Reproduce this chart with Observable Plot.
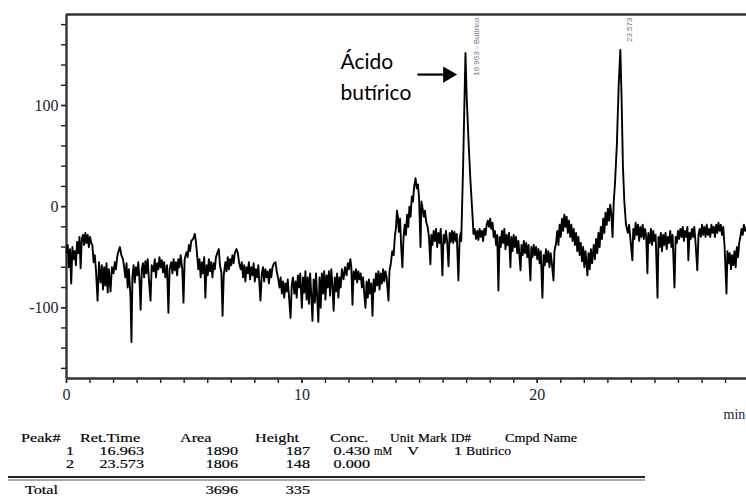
<!DOCTYPE html>
<html><head><meta charset="utf-8">
<script src="https://cdn.jsdelivr.net/npm/d3@7"></script>
<script src="https://cdn.jsdelivr.net/npm/@observablehq/plot@0.6"></script>
<style>
body{margin:0;background:#fff;}
#wrap{position:relative;width:746px;height:499px;overflow:hidden;background:#fff;}
</style></head><body><div id="wrap"></div>
<script>
// ---- axis ticks ----
const yMinorTicks = [-160,-140,-120,-100,-80,-60,-40,-20,0,20,40,60,80,100,120,140,160,180];
const yLabelTicks = [-100, 0, 100];
const xMinorTicks = [0,1,2,3,4,5,6,7,8,9,10,11,12,13,14,15,16,17,18,19,20,21,22,23,24,25,26,27,28];
const xLabelTicks = [0, 10, 20];
const xUnit = "min";

// ---- chromatogram trace: [time (min), signal] ----
const trace = [
[0,-45],[0.05,-38],[0.1,-60],[0.15,-42],[0.2,-76],[0.25,-40],[0.3,-52],[0.35,-44],[0.4,-58],[0.45,-35],[0.5,-46],[0.55,-30],[0.6,-61],[0.65,-32],[0.7,-28],[0.75,-38],[0.8,-26],[0.85,-36],[0.9,-28],[0.95,-40],[1.0,-30],
[1.05,-36],[1.1,-38],[1.15,-55],[1.2,-48],[1.25,-62],[1.32,-93],[1.38,-55],[1.45,-75],[1.5,-58],[1.55,-82],[1.6,-60],[1.65,-78],[1.7,-56],[1.75,-85],[1.8,-62],[1.87,-84],[1.93,-60],[2.0,-66],[2.05,-55],[2.1,-62],[2.15,-50],[2.2,-45],[2.27,-40],[2.33,-48],[2.4,-52],
[2.45,-60],[2.5,-70],[2.55,-56],[2.6,-80],[2.65,-62],[2.72,-90],[2.76,-134],[2.8,-70],[2.85,-58],[2.9,-75],[2.95,-60],[3.0,-68],[3.05,-55],[3.1,-72],[3.15,-102],[3.2,-62],[3.25,-56],[3.3,-70],[3.35,-54],[3.4,-66],[3.45,-52],[3.5,-72],[3.57,-93],[3.62,-58],[3.7,-64],[3.75,-52],[3.8,-70],[3.85,-56],[3.9,-62],[3.95,-50],
[4.0,-60],[4.05,-53],[4.1,-65],[4.15,-55],[4.2,-70],[4.27,-58],[4.33,-105],[4.38,-62],[4.45,-55],[4.5,-66],[4.55,-52],[4.6,-63],[4.65,-55],[4.7,-68],[4.75,-52],[4.8,-60],[4.85,-48],[4.92,-62],[4.97,-95],[5.02,-52],[5.1,-45],[5.15,-50],[5.2,-38],[5.25,-44],[5.3,-34],[5.38,-32],[5.45,-27],[5.5,-35],
[5.55,-48],[5.6,-62],[5.65,-52],[5.7,-70],[5.75,-55],[5.8,-66],[5.85,-50],[5.9,-90],[5.95,-58],[6.0,-68],[6.05,-52],[6.1,-64],[6.15,-55],[6.2,-70],[6.25,-56],[6.3,-62],[6.35,-50],[6.42,-45],[6.47,-42],[6.52,-58],[6.58,-65],[6.63,-108],[6.68,-68],[6.75,-55],[6.8,-64],[6.85,-50],[6.9,-62],[6.95,-52],[7.0,-58],[7.05,-48],[7.1,-56],[7.15,-46],[7.22,-42],[7.28,-46],[7.33,-55],
[7.4,-62],[7.45,-55],[7.5,-70],[7.55,-58],[7.6,-74],[7.65,-60],[7.7,-66],[7.75,-55],[7.8,-72],[7.85,-60],[7.9,-68],[7.95,-56],[8.0,-74],[8.05,-62],[8.1,-70],[8.15,-58],[8.24,-93],[8.3,-66],[8.35,-60],[8.4,-74],[8.45,-62],[8.5,-70],[8.55,-64],[8.6,-76],[8.65,-62],[8.7,-70],[8.75,-60],[8.82,-56],[8.88,-55],[8.93,-64],
[9.0,-72],[9.05,-80],[9.1,-70],[9.15,-86],[9.2,-74],[9.25,-90],[9.3,-76],[9.35,-84],[9.4,-72],[9.45,-88],[9.52,-110],[9.57,-78],[9.62,-70],[9.68,-86],[9.73,-74],[9.78,-90],[9.83,-68],[9.88,-80],[9.93,-66],[10.0,-100],[10.05,-70],[10.1,-85],[10.15,-64],[10.2,-92],[10.25,-70],[10.3,-96],[10.35,-66],[10.4,-88],[10.45,-113],[10.5,-72],[10.55,-95],[10.6,-66],[10.65,-90],[10.7,-114],[10.75,-70],[10.8,-100],[10.85,-66],[10.9,-86],[10.95,-64],[11.0,-92],[11.05,-68],[11.1,-80],[11.15,-64],[11.2,-88],[11.25,-62],
[11.3,-78],[11.35,-103],[11.4,-70],[11.45,-84],[11.5,-66],[11.55,-90],[11.6,-70],[11.65,-80],[11.7,-62],[11.77,-72],[11.83,-60],[11.9,-68],[11.95,-56],[12.0,-62],[12.06,-52],[12.1,-60],[12.15,-97],[12.2,-64],[12.25,-72],[12.3,-62],[12.35,-75],[12.4,-64],[12.45,-72],[12.5,-66],[12.55,-80],[12.6,-70],[12.65,-86],[12.7,-100],[12.75,-74],[12.8,-90],[12.85,-72],[12.9,-86],[12.95,-76],[13.0,-108],[13.05,-72],[13.1,-84],[13.15,-66],[13.2,-78],[13.25,-64],[13.3,-82],[13.35,-66],[13.4,-76],[13.45,-62],[13.5,-74],[13.55,-64],[13.6,-70],[13.68,-93],[13.72,-64],[13.78,-56],[13.84,-44],[13.9,-48],[13.95,-30],[14.0,-20],[14.04,-4],[14.08,-10],
[14.12,-25],[14.17,-12],[14.22,-40],[14.27,-60],[14.32,-30],[14.37,-18],[14.42,-28],[14.47,-8],[14.52,-20],[14.57,0],[14.62,-10],[14.67,10],[14.72,5],[14.77,20],[14.83,28],[14.88,18],[14.93,22],[14.98,8],[15.04,-40],[15.08,5],[15.13,-2],[15.18,-10],[15.23,-4],[15.28,-15],[15.34,-20],[15.4,-30],[15.46,-57],[15.5,-28],[15.55,-38],[15.6,-24],[15.65,-34],[15.7,-22],[15.75,-40],[15.8,-26],[15.85,-36],[15.9,-22],[15.97,-68],[16.02,-28],[16.07,-36],[16.12,-24],[16.17,-34],[16.23,-59],[16.28,-26],[16.33,-35],[16.38,-24],[16.43,-36],[16.48,-25],[16.53,-34],[16.58,-27],[16.65,-73],[16.7,-32],[16.75,-26],
[16.77,-34],[16.85,40],[16.95,152],[17.0,110],[17.08,65],[17.16,26],[17.25,-9],[17.29,-27],
[17.34,-22],[17.4,-32],[17.45,-24],[17.5,-33],[17.55,-22],[17.6,-30],[17.65,-24],[17.7,-34],[17.75,-22],[17.8,-28],[17.85,-18],[17.9,-14],[17.95,-20],[18.0,-12],[18.05,-22],[18.1,-16],[18.15,-30],[18.2,-24],[18.25,-38],[18.3,-28],[18.35,-83],[18.4,-30],[18.45,-40],[18.5,-24],[18.55,-36],[18.6,-22],[18.65,-42],[18.7,-28],[18.75,-38],[18.8,-26],[18.86,-60],[18.9,-30],[18.95,-44],[19.0,-28],[19.05,-40],[19.1,-30],[19.15,-46],[19.2,-34],[19.29,-63],[19.33,-38],[19.38,-48],[19.43,-34],[19.48,-46],[19.53,-36],[19.58,-50],[19.63,-38],[19.71,-73],[19.75,-40],[19.8,-50],[19.85,-38],[19.9,-48],[19.95,-40],[20.0,-52],
[20.05,-42],[20.1,-56],[20.15,-44],[20.22,-90],[20.27,-48],[20.32,-58],[20.37,-42],[20.42,-55],[20.47,-44],[20.52,-60],[20.57,-46],[20.62,-56],[20.69,-73],[20.73,-44],[20.8,-36],[20.85,-24],[20.9,-38],[20.95,-18],[21.0,-30],[21.05,-12],[21.1,-24],[21.15,-8],[21.2,-20],[21.25,-10],[21.3,-26],[21.35,-14],[21.4,-30],[21.45,-18],[21.5,-34],[21.55,-22],[21.6,-38],[21.65,-26],[21.7,-44],[21.75,-30],[21.8,-48],[21.85,-36],[21.9,-54],[21.95,-40],[22.0,-60],[22.05,-44],[22.1,-58],[22.13,-68],[22.18,-46],[22.23,-62],[22.28,-42],[22.33,-56],
[22.4,-38],[22.45,-52],[22.5,-32],[22.55,-46],[22.6,-26],[22.65,-40],[22.7,-20],[22.75,-32],[22.8,-12],[22.85,-26],[22.9,-6],[22.95,-18],[23.0,-2],[23.05,-14],[23.1,2],[23.15,-8],[23.2,-30],[23.25,5],
[23.3,22],[23.38,60],[23.46,120],[23.53,155],[23.58,110],[23.64,40],[23.7,5],[23.77,-18],
[23.85,-26],[23.9,-18],[23.95,-30],[24.04,-53],[24.08,-22],[24.13,-32],[24.18,-16],[24.23,-28],[24.28,-18],[24.33,-34],[24.38,-20],[24.43,-30],[24.48,-18],[24.53,-32],[24.58,-22],[24.63,-30],[24.68,-66],[24.72,-26],[24.78,-36],[24.83,-22],[24.88,-38],[24.93,-24],[24.98,-34],[25.03,-28],[25.11,-90],[25.15,-30],[25.2,-40],[25.25,-26],[25.3,-44],[25.35,-28],[25.4,-38],[25.45,-26],[25.5,-42],[25.55,-30],[25.6,-36],[25.65,-24],[25.7,-40],[25.75,-28],[25.83,-80],[25.88,-30],[25.93,-36],[25.98,-24],
[26.03,-32],[26.08,-22],[26.13,-30],[26.18,-20],[26.23,-34],[26.28,-24],[26.33,-30],[26.38,-20],[26.42,-53],[26.47,-26],[26.52,-32],[26.57,-22],[26.62,-30],[26.67,-20],[26.72,-34],[26.8,-63],[26.85,-28],[26.9,-22],[26.95,-30],[27.0,-18],[27.05,-28],[27.1,-20],[27.15,-30],[27.2,-18],[27.25,-28],[27.3,-22],[27.35,-30],[27.4,-18],[27.45,-26],[27.5,-20],[27.55,-30],[27.6,-18],[27.65,-26],[27.7,-16],[27.75,-24],[27.8,-18],[27.85,-28],[27.9,-20],[27.96,-40],[28.04,-86],[28.08,-44],[28.13,-56],[28.18,-46],[28.23,-62],[28.28,-48],[28.33,-58],[28.38,-44],[28.43,-60],[28.48,-40],[28.53,-50],[28.58,-36],[28.63,-30],[28.68,-22],[28.73,-28],[28.78,-18],[28.83,-24],[28.9,-20]
];

// ---- peak labels and annotation ----
const peakLabels = ["16.963 - Butirico", "23.573"];
const peakLabelTimes = [17.42, 23.9];
const annotationLines = ["Ácido", "butírico"];

// ---- peak table ----
const tableHeader = ["Peak#","Ret.Time","Area","Height","Conc.","Unit","Mark","ID#","Cmpd Name"];
const peakNo = ["1","2"];
const retTime = ["16.963","23.573"];
const peakArea = ["1890","1806"];
const peakHeight = ["187","148"];
const peakConc = ["0.430","0.000"];
const peakUnit = ["mM",""];
const peakMark = ["V",""];
const peakId = ["1",""];
const peakName = ["Butirico",""];
const totalLabel = "Total";
const totalArea = "3696";
const totalHeight = "335";

const pts = trace.map(([t, v]) => ({t, v}));
const ink = "#1c1c2c";

const chart = Plot.plot({
  width: 746, height: 425,
  marginLeft: 66, marginRight: 0, marginTop: 14, marginBottom: 47,
  style: {fontFamily: "'Liberation Serif', serif", fontSize: "16px", color: ink, background: "#fff", overflow: "visible"},
  x: {domain: [0, 28.89]},
  y: {domain: [-170, 190]},
  marks: [
    Plot.axisY({ticks: yMinorTicks, tickSize: 5, tickFormat: () => "", label: null, strokeWidth: 1.4}),
    Plot.axisY({ticks: yLabelTicks, tickSize: 5, tickPadding: 3, label: null, strokeWidth: 1.4, tickFormat: d => String(d)}),
    Plot.axisX({ticks: xMinorTicks, tickSize: 5, tickFormat: () => "", label: null, strokeWidth: 1.4}),
    Plot.axisX({ticks: xLabelTicks, tickSize: 5, tickPadding: 5, label: null, strokeWidth: 1.4, tickFormat: d => String(d)}),
    Plot.ruleY([190], {stroke: "#333", strokeWidth: 2.4}),
    Plot.ruleY([-170], {stroke: "#333", strokeWidth: 2.4}),
    Plot.ruleX([0], {stroke: "#333", strokeWidth: 2.4}),
    Plot.line(pts, {x: "t", y: "v", stroke: "#000", strokeWidth: 1.9}),
    Plot.text(peakLabels, {x: (d, i) => peakLabelTimes[i], y: 187, text: d => d, rotate: -90, textAnchor: "end",
      fontFamily: "'Liberation Sans', sans-serif", fontSize: 8, fill: "#7a6f86"}),
    Plot.text(annotationLines, {x: 11.64, y: (d, i) => i === 0 ? 143 : 112, text: d => d, textAnchor: "start",
      fontFamily: "Lato, sans-serif", fontSize: 21, fill: "#000"}),
    Plot.link([0], {x1: 14.91, x2: 16.08, y1: 130.6, y2: 130.6, stroke: "#000", strokeWidth: 2.2}),
    Plot.dot([0], {x: 16.2, y: 130.6, symbol: "triangle", rotate: 90, r: 6, fill: "#000", stroke: "none"}),
    Plot.text([xUnit], {frameAnchor: "bottom-right", dx: -23, dy: 40, textAnchor: "start", fontSize: 14, text: d => d})
  ]
});
const wrap = document.getElementById("wrap");
chart.style.position = "absolute"; chart.style.left = "0px"; chart.style.top = "0px";
wrap.appendChild(chart);

// ---- table caption (below the plot) ----
const tbl = d3.select(wrap).append("svg")
  .attr("width", 746).attr("height", 74)
  .style("position", "absolute").style("left", "0px").style("top", "425px")
  .style("font-family", "'Liberation Serif', serif").style("font-size", "15px")
  .attr("fill", "#000").attr("stroke", "#000").attr("stroke-width", 0.2);
function put(txt, x, y, anchor, len) {
  if (!txt) return;
  const t = tbl.append("text").attr("transform", `translate(${x},${y}) scale(1.08,0.84)`)
    .attr("text-anchor", anchor || "start").text(txt);
  if (len) t.attr("textLength", len / 1.08).attr("lengthAdjust", "spacingAndGlyphs");
}
const headerX = [21, 80, 180, 255, 330, 390, 418, 451, 505];
const headerLen = [0, 0, 0, 0, 0, 24, 29, 20, 72];
tableHeader.forEach((h, i) => put(h, headerX[i], 16.5, "start", headerLen[i]));
const rowY = [29.5, 42.5];
peakNo.forEach((_, i) => {
  const y = rowY[i];
  put(peakNo[i], 74, y, "end");
  put(retTime[i], 144, y, "end");
  put(peakArea[i], 238, y, "end");
  put(peakHeight[i], 310, y, "end");
  put(peakConc[i], 370, y, "end");
  put(peakUnit[i], 374, y, "start", 18);
  put(peakMark[i], 413, y, "middle");
  put(peakId[i], 462, y, "end");
  put(peakName[i], 466, y, "start", 45);
});
tbl.append("line").attr("x1", 8).attr("x2", 645).attr("y1", 52).attr("y2", 52).attr("stroke", "#222").attr("stroke-width", 2);
tbl.append("line").attr("x1", 8).attr("x2", 645).attr("y1", 55).attr("y2", 55).attr("stroke", "#555").attr("stroke-width", 1);
put(totalLabel, 25, 68.5);
put(totalArea, 238, 68.5, "end");
put(totalHeight, 310, 68.5, "end");
</script></body></html>
